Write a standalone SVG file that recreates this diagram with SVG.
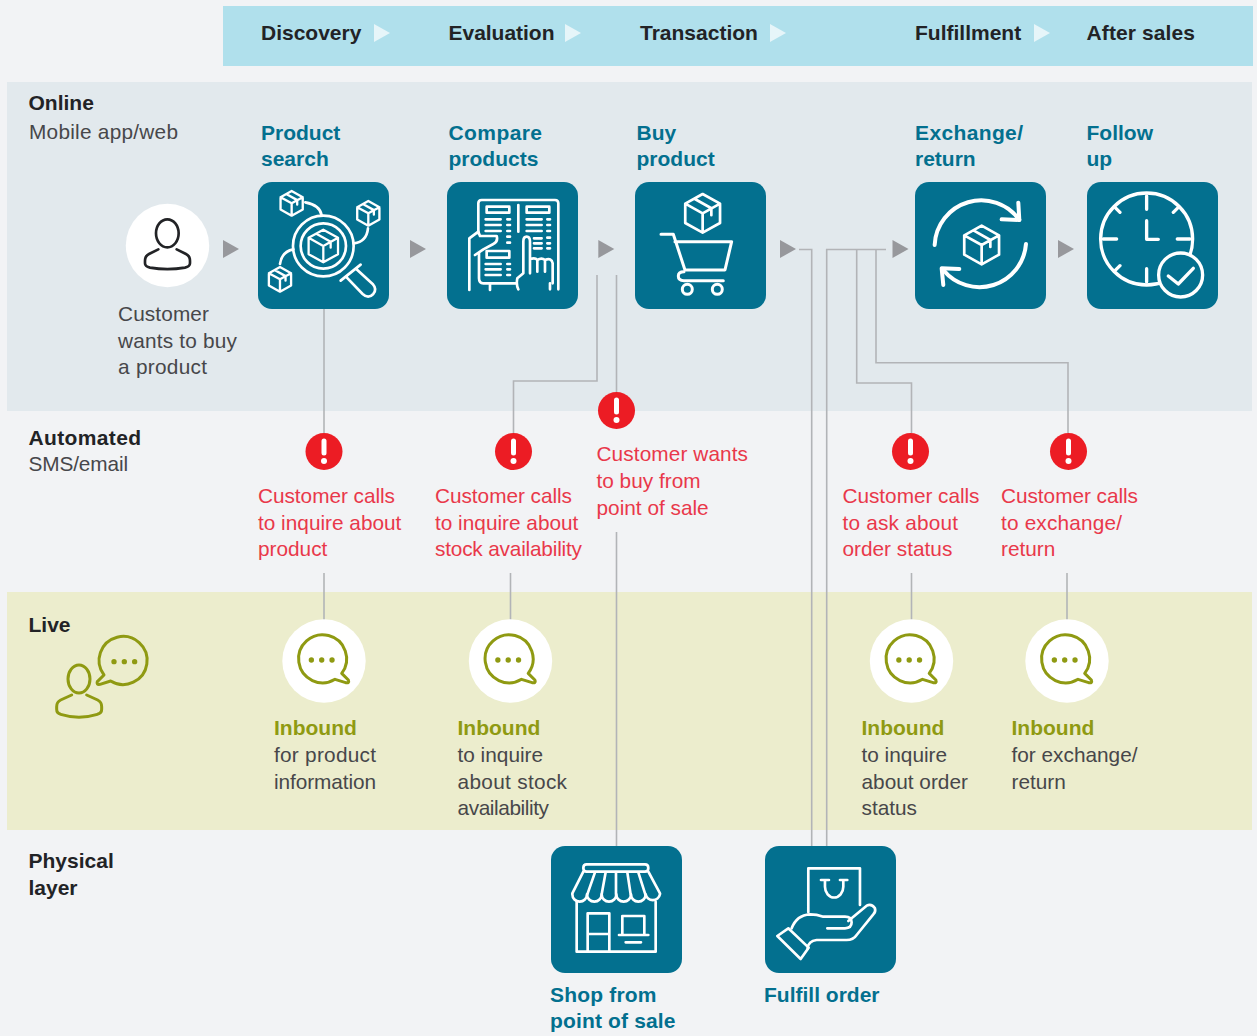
<svg xmlns="http://www.w3.org/2000/svg" width="1257" height="1036" viewBox="0 0 1257 1036">
<style>
text{font-family:"Liberation Sans",Arial,sans-serif;font-size:21px;lengthAdjust:spacing}
.b{font-weight:700}
.k{fill:#222326}
.r{fill:#47474a;font-size:20.8px}
.t{fill:#03708f;font-weight:700}
.e{fill:#e9384a;font-size:20.8px}
.o{fill:#8f9a12;font-weight:700}
.box{fill:#03708f}
.i{fill:none;stroke:#fff;stroke-width:8;stroke-linecap:round;stroke-linejoin:round}
.c{fill:none;stroke:#b2b4b7;stroke-width:1.6}
.tri{fill:#97989c}
.hd{fill:#e6f5f9}
.ol{fill:none;stroke:#8f9a12;stroke-width:9;stroke-linejoin:round}
.pk{fill:none;stroke:#222326;stroke-width:8;stroke-linejoin:round;stroke-linecap:round}
.w{fill:#fff}
.al{fill:#ec1c24}
</style>
<defs>
<g id="cube"><path d="M0-10 9-5V5L0 10-9 5V-5ZM-9-5 0 0 9-5M0 0V10M-4-7.400 4.500-2.600V1"/></g>
<g id="bub"><path class="ol" d="M60 40L80 60Q84 70 72 68L40 58A72 72 0 1 1 60 40Z"/></g>
<g id="dots" fill="#8f9a12"><circle cx="-31" r="8"/><circle r="8"/><circle cx="31" r="8"/></g>
<g id="alert"><circle class="al" r="18.500"/><rect class="w" x="-2.500" y="-13" width="5" height="17" rx="2.500"/><circle class="w" cy="9.500" r="3"/></g>
<path id="arrow" d="M0 0L16 9L0 18Z"/>
</defs>
<rect width="1257" height="1036" fill="#f2f3f5"/>
<rect x="223" y="6" width="1030" height="60" fill="#b0e0ec"/>
<rect x="7" y="82" width="1245" height="329" fill="#e2e9ed"/>
<rect x="7" y="592" width="1245" height="238" fill="#ecedcd"/>

<g id="connectors">
<path class="c" d="M324 309V433"/>
<path class="c" d="M597 275V381H513.500V433"/>
<path class="c" d="M616.500 275V392"/>
<path class="c" d="M616.500 532V846"/>
<path class="c" d="M324 573V620"/>
<path class="c" d="M510.500 573V620"/>
<path class="c" d="M911.500 573V620"/>
<path class="c" d="M1067 573V620"/>
<path class="c" d="M799 249.500H811.700V846"/>
<path class="c" d="M826.700 846V249.500H886"/>
<path class="c" d="M856.700 249.500V383H911.500V433"/>
<path class="c" d="M876 249.500V362.700H1068V433"/>
<use href="#arrow" class="tri" x="223" y="240"/>
<use href="#arrow" class="tri" x="410" y="240"/>
<use href="#arrow" class="tri" x="598.300" y="240"/>
<use href="#arrow" class="tri" x="780" y="240"/>
<use href="#arrow" class="tri" x="892.500" y="240"/>
<use href="#arrow" class="tri" x="1058" y="240"/>
</g>

<g id="header">
<text class="b k" x="261" y="40">Discovery</text>
<text class="b k" x="448.500" y="40" textLength="106">Evaluation</text>
<text class="b k" x="640" y="40">Transaction</text>
<text class="b k" x="915" y="40">Fulfillment</text>
<text class="b k" x="1086.500" y="40" textLength="108.500">After sales</text>
<use href="#arrow" class="hd" x="374" y="24"/>
<use href="#arrow" class="hd" x="565" y="24"/>
<use href="#arrow" class="hd" x="770" y="24"/>
<use href="#arrow" class="hd" x="1034" y="24"/>
</g>

<g id="lane-labels">
<text class="b k" x="28.500" y="110">Online</text>
<text class="r" x="29" y="139" textLength="149">Mobile app/web</text>
<text class="b k" x="28.500" y="445" textLength="112.500">Automated</text>
<text class="r" x="28.500" y="471" textLength="99.500">SMS/email</text>
<text class="b k" x="28.500" y="632">Live</text>
<text class="b k" x="28.500" y="868">Physical</text>
<text class="b k" x="28.500" y="895">layer</text>
</g>

<g id="customer">
<circle class="w" cx="167.500" cy="245.500" r="41.700"/>
<g transform="translate(120 170) scale(.3333)" class="pk">
<ellipse cx="142" cy="190" rx="34" ry="42"/>
<path d="M115 238L87 252Q75 258 75 272V280Q75 290 90 293Q142 302 195 293Q210 290 210 280V272Q210 258 198 252L170 238"/>
</g>
<text class="r" x="118" y="321" textLength="91">Customer</text>
<text class="r" x="118" y="348" textLength="119">wants to buy</text>
<text class="r" x="118" y="374" textLength="89">a product</text>
</g>

<g id="product-search">
<text class="t" x="261" y="140">Product</text>
<text class="t" x="261" y="166">search</text>
<rect class="box" x="258" y="182" width="131" height="127" rx="14"/>
<g transform="translate(120 170) scale(.3333)" class="i">
<circle cx="610" cy="228" r="91"/>
<circle cx="610" cy="228" r="68"/>
<use href="#cube" transform="translate(610 228) scale(4.900)" style="stroke-width:1.400"/>
<use href="#cube" transform="translate(515 100) scale(3.700)" style="stroke-width:1.900"/>
<use href="#cube" transform="translate(745 130) scale(3.700)" style="stroke-width:1.900"/>
<use href="#cube" transform="translate(480 328) scale(3.700)" style="stroke-width:1.900"/>
<path d="M556 97Q600 105 605 136"/>
<path d="M744 175Q740 215 702 220"/>
<path d="M480 282Q485 245 520 238"/>
<path d="M662 332L722 284M680 322L728 372Q745 388 760 372Q772 358 758 342L708 296"/>
</g>
</g>

<g id="compare-products">
<text class="t" x="448.500" y="140" textLength="93.500">Compare</text>
<text class="t" x="448.500" y="166">products</text>
<rect class="box" x="447" y="182" width="131" height="127" rx="14"/>
<g transform="translate(430 170) scale(.3333)" class="i">
<path d="M145 190V100Q145 90 155 90H375Q385 90 385 100V358"/>
<path d="M118 360V205L145 185L150 198H200Q205 215 190 222L160 238L135 255"/>
<path d="M147 250V325Q147 340 160 340H258M180 342V360M360 340V358"/>
<path d="M170 110H238V128H170ZM290 110H358V128H290ZM170 243H238V263H170ZM265 105V185"/>
<path d="M167 148H212M167 165H212M167 183H212M290 148H335M290 165H335M290 183H335M312 205H335M312 220H335M312 235H335M167 282H212M167 298H212M167 315H212"/>
<path d="M232 148H240M232 165H240M232 183H240M232 200H240M232 218H240M352 148H360M352 165H360M352 183H360M352 203H360M352 220H360M352 235H360M232 282H240M232 298H240M232 315H240"/>
<path d="M265 358Q258 345 262 325L280 310V215Q280 200 290 200Q300 200 300 215V268M300 310V268Q315 262 322 270V305M322 270Q335 262 345 270V305M345 270Q365 262 368 280V340"/>
</g>
</g>

<g id="buy-product">
<text class="t" x="636.500" y="140">Buy</text>
<text class="t" x="636.500" y="166">product</text>
<rect class="box" x="635" y="182" width="131" height="127" rx="14"/>
<g class="i" transform="translate(430 170) scale(.3333)" style="stroke-width:9">
<use href="#cube" transform="translate(818 130) scale(5.800)" style="stroke-width:1.400"/>
<path d="M693 193H730L765 300H885L905 215H735"/>
<path d="M880 332H762Q745 332 745 318Q745 305 762 305"/>
<circle cx="772" cy="358" r="15"/>
<circle cx="862" cy="358" r="15"/>
</g>
</g>

<g id="exchange-return">
<text class="t" x="915" y="140" textLength="108">Exchange/</text>
<text class="t" x="915" y="166">return</text>
<rect class="box" x="915" y="182" width="131" height="127" rx="14"/>
<g class="i" transform="translate(770 170) scale(.3333)" style="stroke-width:12">
<path d="M494 225A140 140 0 0 1 748 150"/>
<path d="M745 98L748 150L695 148"/>
<path d="M768 222A140 140 0 0 1 520 300"/>
<path d="M520 345L515 295L568 297"/>
<use href="#cube" transform="translate(635 225) scale(5.800)" style="stroke-width:1.400"/>
</g>
</g>

<g id="follow-up">
<text class="t" x="1086.500" y="140">Follow</text>
<text class="t" x="1086.500" y="166">up</text>
<rect class="box" x="1087" y="182" width="131" height="127" rx="14"/>
<g class="i" transform="translate(770 170) scale(.3333)" style="stroke-width:10">
<circle cx="1130" cy="207" r="138"/>
<path d="M1130 78V118M1130 296V336M1000 207H1040M1222 207H1260M1130 152V208H1165M1035 112L1050 127M1225 112L1210 127M1035 302L1050 287"/>
<circle cx="1232" cy="315" r="66" fill="#03708f"/>
<path d="M1195 318L1225 342L1270 295"/>
</g>
</g>

<g id="alert-product"><use href="#alert" x="324" y="451.500"/>
<text class="e" x="258" y="503" textLength="137">Customer calls</text><text class="e" x="258" y="530">to inquire about</text><text class="e" x="258" y="556">product</text></g>
<g id="alert-stock"><use href="#alert" x="513.500" y="451.500"/>
<text class="e" x="435" y="503" textLength="137">Customer calls</text><text class="e" x="435" y="530">to inquire about</text><text class="e" x="435" y="556" textLength="147">stock availability</text></g>
<g id="alert-pos"><use href="#alert" x="616.500" y="410.500"/>
<text class="e" x="596.500" y="461" textLength="151.500">Customer wants</text><text class="e" x="596.500" y="488">to buy from</text><text class="e" x="596.500" y="515">point of sale</text></g>
<g id="alert-status"><use href="#alert" x="910.500" y="451.500"/>
<text class="e" x="842.500" y="503" textLength="137">Customer calls</text><text class="e" x="842.500" y="530" textLength="115.500">to ask about</text><text class="e" x="842.500" y="556">order status</text></g>
<g id="alert-exchange"><use href="#alert" x="1068.500" y="451.500"/>
<text class="e" x="1001" y="503" textLength="137">Customer calls</text><text class="e" x="1001" y="530" textLength="121">to exchange/</text><text class="e" x="1001" y="556">return</text></g>

<g id="live-icon" transform="translate(40 610) scale(.3333)">
<ellipse class="ol" cx="117" cy="207" rx="33" ry="42"/>
<path class="ol" stroke-linecap="round" d="M95 255L62 270Q50 276 50 290V298Q50 310 62 313Q117 330 172 313Q185 310 185 298V290Q185 276 173 270L140 255"/>
<use href="#bub" transform="translate(252 155) scale(-1 1)"/>
<use href="#dots" transform="translate(253 155)"/>
</g>

<g id="inbound-product">
<circle class="w" cx="324" cy="661" r="41.700"/>
<g transform="translate(321.700 660) scale(.3333)"><use href="#bub"/><use href="#dots"/></g>
<text class="o" x="274" y="735">Inbound</text><text class="r" x="274" y="762" textLength="102">for product</text><text class="r" x="274" y="789" textLength="102">information</text>
</g>
<g id="inbound-stock">
<circle class="w" cx="510.500" cy="661" r="41.700"/>
<g transform="translate(508.200 660) scale(.3333)"><use href="#bub"/><use href="#dots"/></g>
<text class="o" x="457.500" y="735">Inbound</text><text class="r" x="457.500" y="762">to inquire</text><text class="r" x="457.500" y="789" textLength="109.500">about stock</text><text class="r" x="457.500" y="815" textLength="91.500">availability</text>
</g>
<g id="inbound-status">
<circle class="w" cx="911.500" cy="661" r="41.700"/>
<g transform="translate(909.200 660) scale(.3333)"><use href="#bub"/><use href="#dots"/></g>
<text class="o" x="861.500" y="735">Inbound</text><text class="r" x="861.500" y="762">to inquire</text><text class="r" x="861.500" y="789">about order</text><text class="r" x="861.500" y="815">status</text>
</g>
<g id="inbound-exchange">
<circle class="w" cx="1067" cy="661" r="41.700"/>
<g transform="translate(1064.700 660) scale(.3333)"><use href="#bub"/><use href="#dots"/></g>
<text class="o" x="1011.500" y="735">Inbound</text><text class="r" x="1011.500" y="762">for exchange/</text><text class="r" x="1011.500" y="789">return</text>
</g>

<g id="shop">
<rect class="box" x="551" y="846" width="131" height="127" rx="14"/>
<g class="i" transform="translate(540 835) scale(.3333)">
<path d="M140 88H315Q325 88 325 99Q325 110 315 110H140Q130 110 130 99Q130 88 140 88Z"/>
<path d="M130 110L97 175M325 110L360 175M165 112L142 178M197 112L185 178M228 112V178M262 112L272 178M295 112L316 178"/>
<path d="M97 178A22 22 0 0 0 141 178A22 22 0 0 0 185 178A22 22 0 0 0 229 178A22 22 0 0 0 273 178A22 22 0 0 0 317 178A22 22 0 0 0 360 178"/>
<path d="M110 200V350H347V200M143 350V235H208V350M143 297H208M247 300V243H313V300M237 300H325M257 322H303"/>
</g>
<text class="t" x="550" y="1002" textLength="106.500">Shop from</text>
<text class="t" x="550" y="1028" textLength="125.500">point of sale</text>
</g>

<g id="fulfill">
<rect class="box" x="765" y="846" width="131" height="127" rx="14"/>
<g class="i" transform="translate(540 835) scale(.3333)">
<path d="M805 232V100H960V210"/>
<path d="M843 135H867M900 135H922M855 137V155A27 32 0 0 0 910 155V137"/>
<path d="M755 280Q770 240 810 238Q830 238 850 245H915Q935 245 935 262Q935 280 915 280H862"/>
<path d="M925 258L980 212Q995 205 1005 220Q1008 230 1000 238L950 300Q940 315 920 315H830Q805 318 803 340"/>
<path d="M712 303L745 280L806 338L782 372Z"/>
</g>
<text class="t" x="764" y="1002">Fulfill order</text>
</g>
</svg>
